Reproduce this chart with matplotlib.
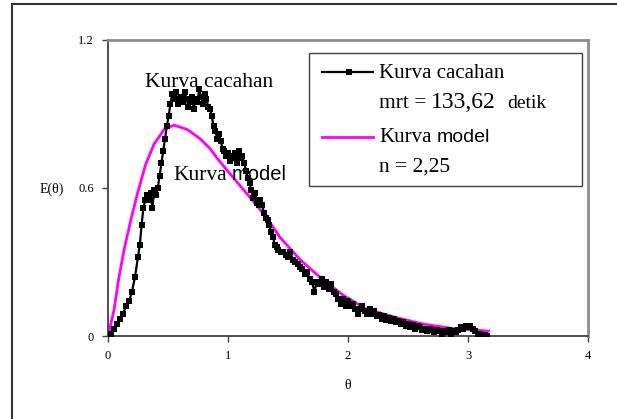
import matplotlib
matplotlib.use("Agg")
import matplotlib.pyplot as plt
from matplotlib.patches import Rectangle
from matplotlib.lines import Line2D

# ---- data ----
theta_data = [0.000, 0.025, 0.050, 0.075, 0.100, 0.125, 0.150, 0.175, 0.200, 0.225,
              0.250, 0.265, 0.280, 0.295, 0.310, 0.325, 0.340, 0.355, 0.370, 0.385,
              0.400, 0.415, 0.430, 0.445, 0.460, 0.475, 0.490, 0.505, 0.520, 0.535,
              0.550, 0.565, 0.580, 0.595, 0.610, 0.625, 0.640, 0.655, 0.670, 0.685,
              0.700, 0.715, 0.730, 0.745, 0.760, 0.775, 0.790, 0.805, 0.820, 0.835,
              0.850, 0.865, 0.880, 0.895, 0.910, 0.925, 0.940, 0.955, 0.970, 0.985,
              1.000, 1.015, 1.030, 1.045, 1.060, 1.075, 1.090, 1.105, 1.120, 1.135,
              1.150, 1.165, 1.180, 1.195, 1.210, 1.225, 1.240, 1.255, 1.270, 1.285,
              1.300, 1.315, 1.330, 1.345, 1.360, 1.375, 1.390, 1.405, 1.420, 1.440,
              1.460, 1.480, 1.500, 1.520, 1.540, 1.560, 1.580, 1.600, 1.620, 1.640,
              1.660, 1.680, 1.700, 1.720, 1.740, 1.760, 1.780, 1.800, 1.820, 1.840,
              1.860, 1.880, 1.900, 1.920, 1.940, 1.960, 1.980, 2.000, 2.020, 2.040,
              2.060, 2.080, 2.100, 2.120, 2.140, 2.160, 2.180, 2.200, 2.220, 2.240,
              2.260, 2.280, 2.300, 2.320, 2.340, 2.360, 2.380, 2.400, 2.420, 2.440,
              2.460, 2.480, 2.500, 2.520, 2.540, 2.560, 2.580, 2.600, 2.620, 2.640,
              2.660, 2.680, 2.700, 2.720, 2.740, 2.760, 2.780, 2.800, 2.820, 2.840,
              2.860, 2.880, 2.900, 2.920, 2.940, 2.960, 2.980, 3.000, 3.020, 3.040,
              3.060, 3.080, 3.100, 3.120, 3.140, 3.160]
E_data = [0.00, 0.01, 0.03, 0.05, 0.07, 0.09, 0.12, 0.14, 0.18, 0.24,
          0.32, 0.37, 0.45, 0.52, 0.55, 0.57, 0.55, 0.58, 0.52, 0.59,
          0.57, 0.60, 0.65, 0.70, 0.75, 0.80, 0.85, 0.89, 0.94, 0.98,
          0.96, 0.99, 0.94, 0.96, 0.97, 0.95, 0.99, 0.96, 0.93, 0.95,
          0.97, 0.92, 0.96, 0.95, 1.00, 0.97, 0.94, 0.98, 0.96, 0.93,
          0.92, 0.89, 0.85, 0.83, 0.80, 0.82, 0.79, 0.76, 0.75, 0.73,
          0.74, 0.71, 0.73, 0.72, 0.74, 0.70, 0.75, 0.72, 0.73, 0.70,
          0.67, 0.64, 0.62, 0.59, 0.56, 0.58, 0.54, 0.53, 0.55, 0.53,
          0.50, 0.48, 0.47, 0.45, 0.42, 0.40, 0.37, 0.36, 0.35, 0.34,
          0.34, 0.33, 0.32, 0.34, 0.31, 0.30, 0.29, 0.28, 0.27, 0.25,
          0.26, 0.23, 0.22, 0.18, 0.22, 0.21, 0.23, 0.20, 0.22, 0.19,
          0.21, 0.18, 0.17, 0.15, 0.13, 0.15, 0.12, 0.14, 0.12, 0.13,
          0.11, 0.09, 0.11, 0.12, 0.10, 0.09, 0.11, 0.09, 0.10, 0.08,
          0.085, 0.07, 0.08, 0.065, 0.075, 0.06, 0.07, 0.055, 0.06, 0.05,
          0.055, 0.04, 0.05, 0.035, 0.045, 0.03, 0.04, 0.035, 0.025, 0.03,
          0.02, 0.03, 0.025, 0.015, 0.025, 0.02, 0.01, 0.02, 0.015, 0.025,
          0.01, 0.02, 0.015, 0.025, 0.035, 0.03, 0.04, 0.035, 0.04, 0.03,
          0.02, 0.005, 0.01, 0.0, 0.005, 0.0]

theta_model = [0.0, 0.05, 0.092, 0.133, 0.189, 0.244, 0.314, 0.383, 0.467, 0.55,
               0.661, 0.767, 0.85, 0.906, 1.044, 1.183, 1.322, 1.433, 1.6, 1.75,
               1.96, 2.15, 2.4, 2.63, 2.88, 3.17]
E_model = [0.0, 0.105, 0.24, 0.347, 0.468, 0.575, 0.696, 0.777, 0.837, 0.855,
           0.837, 0.80, 0.76, 0.723, 0.642, 0.562, 0.481, 0.40, 0.31, 0.245,
           0.165, 0.11, 0.075, 0.048, 0.03, 0.02]

x_ticks = [0, 1, 2, 3, 4]
y_ticks = [0, 0.6, 1.2]
y_tick_labels = ["0", "0.6", "1.2"]

W, H = 617, 419
SERIF = "Liberation Serif"
SANS = "Liberation Sans"

fig = plt.figure(figsize=(W / 100, H / 100), dpi=100)

def fx(px):
    return px / W

def fy(py):
    return 1 - py / H

ax = fig.add_axes([fx(108), fy(336), (588 - 108) / W, (336 - 40) / H])
ax.plot(theta_model, E_model, color="#ff00ff", lw=2.0, zorder=2)
ax.plot(theta_data, E_data, color="black", lw=1.6, marker="s", markersize=5,
        markeredgewidth=0, zorder=3)

ax.set_xlim(0, 4)
ax.set_ylim(0, 1.2)
ax.set_xticks(x_ticks)
ax.set_xticklabels([str(t) for t in x_ticks])
ax.set_yticks(y_ticks)
ax.set_yticklabels(y_tick_labels)
ax.tick_params(direction="out", length=4, width=1, color="#404040",
               labelsize=9, pad=6)
for lab in ax.get_xticklabels() + ax.get_yticklabels():
    lab.set_fontfamily(SERIF)
ax.spines["left"].set_color("#404040")
ax.spines["bottom"].set_color("#404040")
ax.spines["left"].set_linewidth(1.3)
ax.spines["bottom"].set_linewidth(1.3)
ax.spines["top"].set_color("#8c8c8c")
ax.spines["right"].set_color("#8c8c8c")
ax.spines["top"].set_linewidth(2)
ax.spines["right"].set_linewidth(2)

# axis labels
fig.text(fx(52), fy(189), "E(θ)", family=SERIF, fontsize=10, ha="center", va="center")
fig.text(fx(348), fy(385), "θ", family=SERIF, fontsize=10, ha="center", va="center")

# annotations inside plot
fig.text(fx(145), fy(87), "Kurva cacahan", family=SERIF, fontsize=15.5,
         ha="left", va="baseline")
fig.text(fx(173), fy(180), "Kurva", family=SERIF, fontsize=15.5, ha="left", va="baseline")
fig.text(fx(232), fy(180), "model", family=SANS, fontsize=14.5, ha="left", va="baseline")

# outer border
fig.patches.append(Rectangle((fx(12), -0.2), 1.5, fy(4) + 0.2, transform=fig.transFigure,
                             fill=False, edgecolor="#333333", lw=1.5))

# custom legend
fig.patches.append(Rectangle((fx(309), fy(186)), (582 - 309) / W, (186 - 53) / H,
                             transform=fig.transFigure, facecolor="white",
                             edgecolor="#404040", lw=1.0, zorder=5))
fig.lines.append(Line2D([fx(322), fx(373)], [fy(72), fy(72)], transform=fig.transFigure,
                        color="black", lw=1.6, zorder=6))
fig.lines.append(Line2D([fx(349)], [fy(72)], transform=fig.transFigure, color="black",
                        marker="s", markersize=5, markeredgewidth=0, zorder=7))
fig.lines.append(Line2D([fx(322), fx(373)], [fy(137), fy(137)], transform=fig.transFigure,
                        color="#ff00ff", lw=2.0, zorder=6))
fig.text(fx(379), fy(78), "Kurva cacahan", family=SERIF, fontsize=15, ha="left",
         va="baseline", zorder=8)
fig.text(fx(379), fy(108), "mrt =", family=SERIF, fontsize=15.5, ha="left",
         va="baseline", zorder=8)
fig.text(fx(431), fy(108), "133,62", family=SERIF, fontsize=17, ha="left",
         va="baseline", zorder=8)
fig.text(fx(507), fy(108), "detik", family=SERIF, fontsize=14, ha="left",
         va="baseline", zorder=8)
fig.text(fx(379), fy(142), "Kurva", family=SERIF, fontsize=15, ha="left",
         va="baseline", zorder=8)
fig.text(fx(437), fy(142), "model", family=SANS, fontsize=14, ha="left",
         va="baseline", zorder=8)
fig.text(fx(379), fy(172), "n = 2,25", family=SERIF, fontsize=15.5, ha="left",
         va="baseline", zorder=8)

fig.savefig("out.png", dpi=100)
